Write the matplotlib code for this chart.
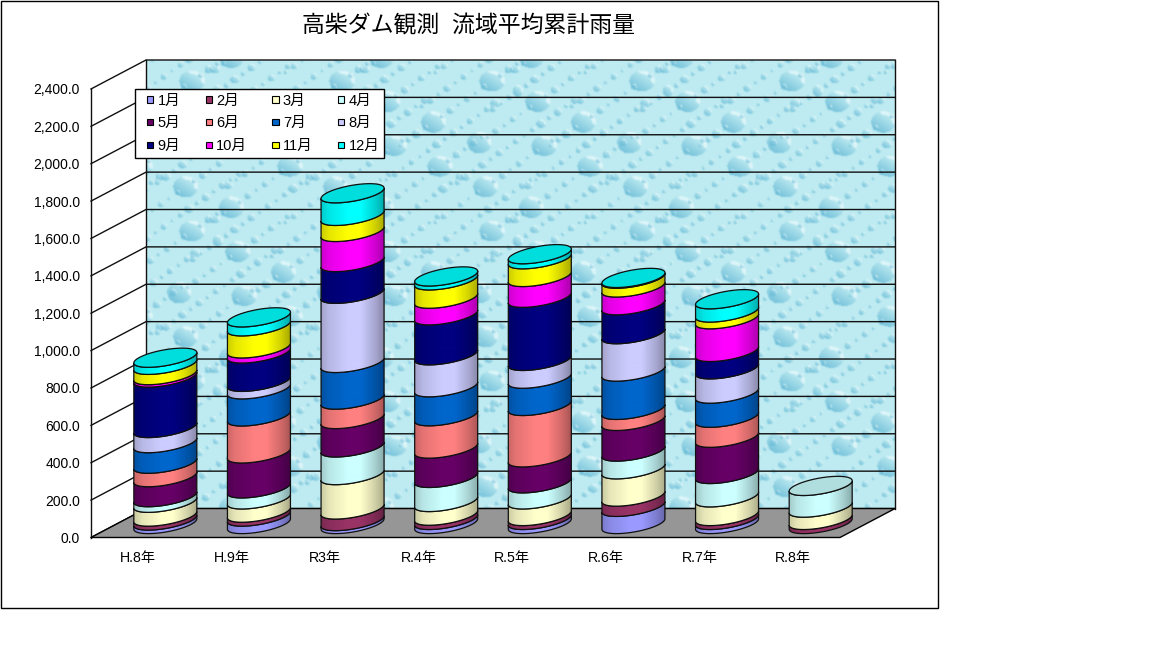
import numpy as np
import matplotlib
matplotlib.use("Agg")
import matplotlib.pyplot as plt
from matplotlib.patches import PathPatch, Polygon, Rectangle, Patch
from matplotlib.path import Path
from matplotlib.legend_handler import HandlerPatch

plt.rcParams['font.family'] = ['Liberation Sans', 'Noto Sans CJK JP', 'DejaVu Sans']

categories = ['H.8年', 'H.9年', 'R3年', 'R.4年', 'R.5年', 'R.6年', 'R.7年', 'R.8年']
months = ['1月', '2月', '3月', '4月', '5月', '6月', '7月', '8月', '9月', '10月', '11月', '12月']
jan = [19, 40, 16, 22, 22, 92, 22, 0]
feb = [21, 21, 62, 23, 21, 55, 21, 22]
mar = [74, 71, 184, 73, 89, 146, 100, 66]
apr = [30, 59, 148, 129, 86, 95, 125, 116]
may = [107, 187, 152, 157, 139, 164, 194, 0]
jun = [72, 198, 104, 173, 275, 59, 107, 0]
jul = [110, 145, 196, 155, 146, 205, 129, 0]
aug = [81, 40, 370, 171, 95, 200, 130, 0]
sep = [270, 152, 170, 214, 338, 155, 93, 0]
oct_ = [13, 27, 161, 89, 111, 95, 175, 0]
nov = [55, 118, 86, 98, 95, 47, 36, 0]
dec = [38, 48, 121, 21, 27, 4, 71, 0]
series = [jan, feb, mar, apr, may, jun, jul, aug, sep, oct_, nov, dec]
colors = ['#9999FF', '#993366', '#FFFFCC', '#CCFFFF', '#660066', '#FF8080',
          '#0066CC', '#CCCCFF', '#000080', '#FF00FF', '#FFFF00', '#00FFFF']
yticks = list(range(0, 2401, 200))

W, H = 1152, 648
fig = plt.figure(figsize=(W / 100, H / 100), dpi=100, facecolor='white')
fig.add_artist(Rectangle((0.5 / W, 1 - 608 / H), 937.5 / W, 607.5 / H, transform=fig.transFigure,
                         fill=False, ec='black', lw=1))
fig.text(469 / W, 1 - 26 / H, '高柴ダム観測  流域平均累計雨量', ha='center', va='center',
         fontsize=16.5, color='black')

# axes: the front plane is 0..2400 and -0.5..7.5, the extra room holds the depth of the box
DEPTH_X, DEPTH_V = 0.5876, 155
ax = fig.add_axes([91 / W, 1 - 537.5 / H, 804 / W, 477.5 / H])
ax.set_xlim(-0.5, 7.5 + DEPTH_X)
ax.set_ylim(0, 2400 + DEPTH_V)
for s in ax.spines.values():
    s.set_visible(False)
ax.set_xticks(range(len(categories)))
ax.set_xticklabels(categories, fontsize=10.2)
ax.set_yticks(yticks)
ax.set_yticklabels([f'{v:,.1f}' for v in yticks], fontsize=10)
ax.tick_params(axis='both', length=0)
ax.tick_params(axis='y', pad=8)
ax.tick_params(axis='x', pad=10)
ax.patch.set_visible(False)


def wall_texture(w=749, h=449, tile=150):
    """Repeating water-drop decoration for the back wall."""
    base = np.array([190, 235, 241.])
    low = np.array([96, 182, 212.])
    white = np.array([240, 253, 254.])
    img = np.ones((tile, tile, 3)) * base
    yy, xx = np.mgrid[0:tile, 0:tile]
    drops = []
    for i in range(1, 120):
        cx, cy = (i * 0.61803) % 1 * tile, (i * 0.75488) % 1 * tile
        u = (i * 0.56984) % 1
        if i % 14 == 0:
            r, ry = 8 + 5 * u, 10 + 6 * ((i * 0.43) % 1)
        else:
            r = 1.6 + 3.6 * u ** 1.5
            ry = r * (0.85 + 0.3 * ((i * 0.43) % 1))
        drops.append((r * ry, cx, cy, r, ry))
    for _, cx, cy, r, ry in sorted(drops, reverse=True):
        nx = ((xx - cx + tile / 2) % tile - tile / 2) / r
        ny = ((yy - cy + tile / 2) % tile - tile / 2) / ry
        d = nx ** 2 + ny ** 2
        m = d < 1
        a = np.clip(0.34 + 0.42 * (-0.6 * nx + 0.8 * ny), 0.05, 0.9)
        img[m] = img[m] * (1 - a[m, None]) + low * a[m, None]
        hl = m & (d > 0.45) & ((nx * 0.7 - ny * 0.7) > 0.42)
        img[hl] = img[hl] * 0.35 + white * 0.65
    for _ in range(2):  # soften, with wrap-around so the tile stays seamless
        img = sum(np.roll(np.roll(img, a, 0), b, 1) * k for (a, b, k) in
                  [(0, 0, .4), (1, 0, .15), (-1, 0, .15), (0, 1, .15), (0, -1, .15)])
    reps = (h // tile + 1, w // tile + 1, 1)
    return np.tile(img, reps)[:h, :w].astype(np.uint8)


ax.imshow(wall_texture(), extent=(-0.5 + DEPTH_X, 7.5 + DEPTH_X, DEPTH_V, 2400 + DEPTH_V),
          aspect='auto', zorder=1, interpolation='nearest')

# gridlines on both walls
GRID = '#101010'
for v in yticks:
    ax.plot([-0.5, -0.5 + DEPTH_X, 7.5 + DEPTH_X], [v, v + DEPTH_V, v + DEPTH_V],
            color=GRID, lw=1.0, zorder=2, clip_on=False)
ax.plot([-0.5, -0.5], [0, 2400], color=GRID, lw=1.0, zorder=2, clip_on=False)
ax.plot([-0.5 + DEPTH_X] * 2, [DEPTH_V, 2400 + DEPTH_V], color=GRID, lw=1.0, zorder=2, clip_on=False)
ax.plot([7.5 + DEPTH_X] * 2, [DEPTH_V, 2400 + DEPTH_V], color=GRID, lw=1.0, zorder=2, clip_on=False)
ax.add_patch(Polygon([(-0.5, 0), (7.5, 0), (7.5 + DEPTH_X, DEPTH_V), (-0.5 + DEPTH_X, DEPTH_V)],
                     closed=True, fc='#969696', ec='black', lw=1.0, zorder=3, clip_on=False))

# cylinders
RX = 0.3365            # half width in category units
TILT, BULGE = 28, 43   # ellipse slant and half depth, value units
OFF_X, OFF_V = DEPTH_X / 2, 72
T = np.linspace(np.pi, 2 * np.pi, 60)


def ring(c, v, t):
    return (c + OFF_X + RX * np.cos(t),
            v + OFF_V + TILT * np.cos(t) + BULGE * np.sin(t))


u = np.linspace(0, 1, 64)
shade = np.interp(u, [0, 0.12, 0.42, 0.62, 0.85, 1], [0.80, 0.90, 1.0, 1.0, 0.82, 0.66])
z = 10
for i in range(len(categories)):
    base = 0.0
    top_color = None
    for vals, col in zip(series, colors):
        v = vals[i]
        if v <= 0:
            continue
        x0, y0 = ring(i, base, T)
        x1, y1 = ring(i, base + v, T[::-1])
        verts = np.column_stack([np.r_[x0, x1], np.r_[y0, y1]])
        patch = PathPatch(Path(np.vstack([verts, verts[0]]), closed=True), fc='none', ec='#101010',
                          lw=0.9, zorder=z + 1)
        ax.add_patch(patch)
        rgb = np.array(matplotlib.colors.to_rgb(col))
        grad = (shade[None, :, None] * rgb[None, None, :])
        im = ax.imshow(grad, extent=(i + OFF_X - RX, i + OFF_X + RX, verts[:, 1].min(), verts[:, 1].max()),
                       aspect='auto', zorder=z, interpolation='bilinear')
        im.set_clip_path(patch)
        base += v
        top_color = rgb
        z += 2
    t_full = np.linspace(0, 2 * np.pi, 120)
    xt, yt = ring(i, base, t_full)
    ax.add_patch(Polygon(np.column_stack([xt, yt]), closed=True, fc=tuple(top_color * 0.865),
                         ec='#101010', lw=0.9, zorder=z))
    z += 1
ax.set_xlim(-0.5, 7.5 + DEPTH_X)
ax.set_ylim(0, 2400 + DEPTH_V)


class SquareAtRight(HandlerPatch):
    """Legend key: a small square at the right end of the handle box."""
    def create_artists(self, legend, orig, xd, yd, width, height, fontsize, trans):
        side = 0.42 * fontsize
        sq = Rectangle((width - xd - side, (height - side) / 2 - yd), side, side,
                       fc=orig.get_facecolor(), ec='black', lw=0.8, transform=trans)
        return [sq]


# legend, filled row by row
order = [r * 4 + c for c in range(4) for r in range(3)]
handles = [Patch(fc=colors[k], ec='black', lw=0.8, label=months[k]) for k in order]
leg = fig.legend(handles=handles, ncols=4, loc='upper left',
                 bbox_to_anchor=(135 / W, 1 - 89 / H), bbox_transform=fig.transFigure,
                 handler_map={Patch: SquareAtRight()},
                 borderaxespad=0, fontsize=10.5, handlelength=0.92, handleheight=0.45,
                 handletextpad=0.3, columnspacing=1.24, labelspacing=0.6, borderpad=0.32,
                 fancybox=False, edgecolor='black', framealpha=1)
leg.get_frame().set_linewidth(1.0)
leg.set_zorder(1000)
ax.set_zorder(1)

fig.savefig('out.png', dpi=100)
